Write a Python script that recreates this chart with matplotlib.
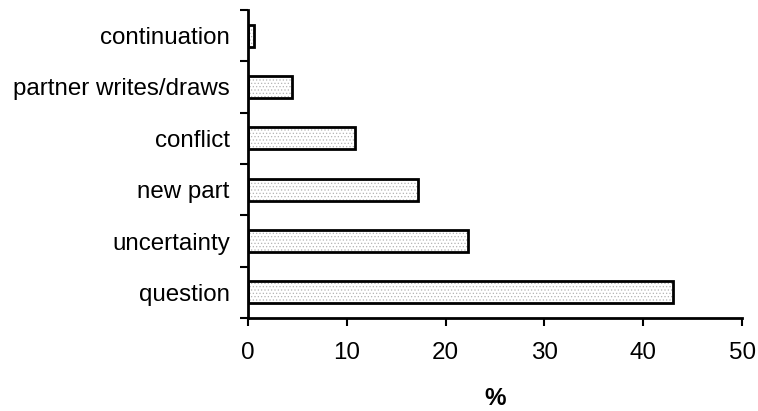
import matplotlib
matplotlib.use("Agg")
import matplotlib.pyplot as plt
import numpy as np

categories = ["question", "uncertainty", "new part", "conflict",
              "partner writes/draws", "continuation"]
percent = [43.0, 22.3, 17.2, 10.8, 4.5, 0.6]
x_ticks = [0, 10, 20, 30, 40, 50]

plt.rcParams["font.family"] = ["Liberation Sans", "DejaVu Sans"]
plt.rcParams["hatch.color"] = "#b4b4b4"
plt.rcParams["hatch.linewidth"] = 0.5

fs = 17.4

fig = plt.figure(figsize=(7.58, 4.11), dpi=100)
ax = fig.add_axes([0.327, 0.226, 0.652, 0.750])

y = np.arange(len(categories))
h = 0.43
# dotted fill, then black outline on top
ax.barh(y, percent, height=h, color="white", hatch=".....", linewidth=0)
ax.barh(y, percent, height=h, fill=False, edgecolor="black", linewidth=2.0)

ax.set_xlim(0, 50)
ax.set_ylim(-0.5, len(categories) - 0.5)

ax.set_xticks(x_ticks)
ax.set_xticklabels([str(v) for v in x_ticks], fontsize=fs)
ax.tick_params(axis="x", direction="out", length=5.5, width=1.5, pad=12)

# tick marks between categories, labels at centres
ax.set_yticks(np.arange(-0.5, len(categories), 1.0))
ax.set_yticklabels([])
ax.set_yticks(y, minor=True)
ax.set_yticklabels(categories, minor=True, fontsize=fs)
ax.tick_params(axis="y", which="major", direction="out", length=5.5, width=1.5)
ax.tick_params(axis="y", which="minor", length=0, pad=13)

for side in ("top", "right"):
    ax.spines[side].set_visible(False)
for side in ("left", "bottom"):
    ax.spines[side].set_linewidth(2.0)

ax.set_xlabel("%", fontsize=fs, fontweight="bold", labelpad=16)

fig.savefig("out.png", dpi=100)
